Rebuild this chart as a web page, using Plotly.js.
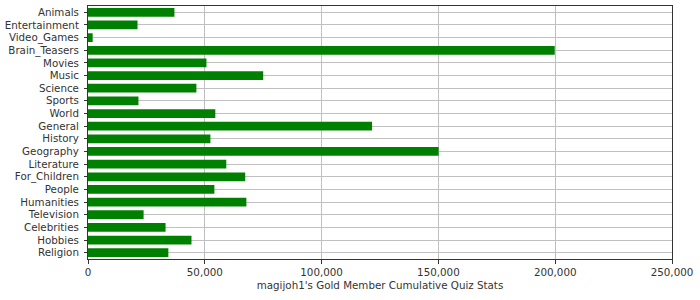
<!DOCTYPE html>
<html>
<head>
<meta charset="utf-8">
<script src="https://cdn.plot.ly/plotly-3.0.1.min.js"></script>
<style>
  html, body { margin: 0; padding: 0; background: #fff; }
  #chart { width: 700px; height: 300px; }
</style>
</head>
<body>
<div id="chart"></div>
<script>
// Quiz categories, top to bottom
const categories = [
  "Animals", "Entertainment", "Video_Games", "Brain_Teasers", "Movies",
  "Music", "Science", "Sports", "World", "General",
  "History", "Geography", "Literature", "For_Children", "People",
  "Humanities", "Television", "Celebrities", "Hobbies", "Religion"
];

// Cumulative points per category
const points = [
  37000, 21200, 2000, 199800, 50700,
  75000, 46400, 21600, 54500, 121600,
  52400, 150100, 59200, 67300, 54100,
  67800, 23800, 33200, 44300, 34400
];

const xTickValues = [0, 50000, 100000, 150000, 200000, 250000];
const xTickLabels = ["0", "50,000", "100,000", "150,000", "200,000", "250,000"];

const axisTitle = "magijoh1's Gold Member Cumulative Quiz Stats";

const textFont = { family: "DejaVu Sans, sans-serif", size: 10.3, color: "#333333" };

Plotly.newPlot("chart", [{
  type: "bar",
  orientation: "h",
  x: points,
  y: categories,
  marker: { color: "#008000", line: { width: 0 } },
  hoverinfo: "x+y"
}], {
  width: 700,
  height: 300,
  margin: { l: 88, r: 28, t: 6, b: 41 },
  paper_bgcolor: "#ffffff",
  plot_bgcolor: "#ffffff",
  bargap: 0.31,
  font: textFont,
  showlegend: false,
  xaxis: {
    range: [0, 250000],
    tickmode: "array",
    tickvals: xTickValues,
    ticktext: xTickLabels,
    ticks: "outside",
    ticklen: 4,
    tickcolor: "#333333",
    showgrid: true,
    gridcolor: "#c0c0c0",
    gridwidth: 1,
    zeroline: false,
    showline: true,
    linecolor: "#333333",
    linewidth: 1,
    mirror: true,
    tickfont: textFont,
    title: { text: axisTitle, font: textFont, standoff: 4 }
  },
  yaxis: {
    type: "category",
    categoryorder: "array",
    categoryarray: categories,
    tickmode: "array",
    tickvals: categories,
    ticktext: categories,
    autorange: "reversed",
    ticks: "outside",
    ticklen: 3,
    tickcolor: "#333333",
    ticklabelstandoff: 3,
    showgrid: true,
    gridcolor: "#c0c0c0",
    gridwidth: 1,
    zeroline: false,
    showline: true,
    linecolor: "#333333",
    linewidth: 1,
    mirror: true,
    tickfont: textFont
  }
}, { displayModeBar: false, staticPlot: true });
</script>
</body>
</html>
